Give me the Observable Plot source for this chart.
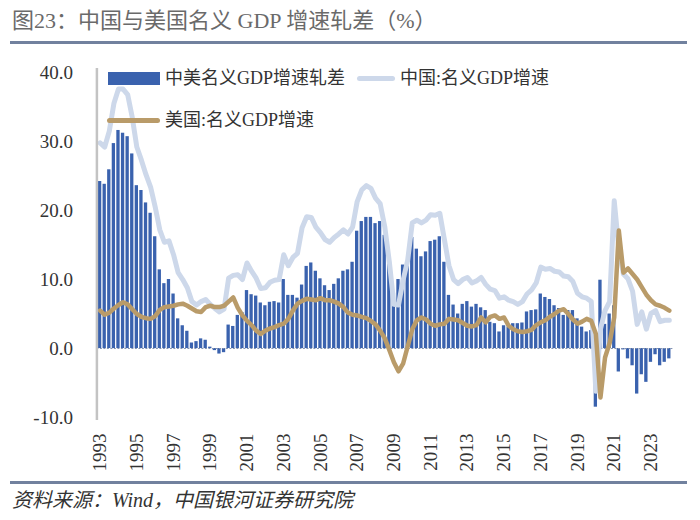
<!DOCTYPE html>
<html><head><meta charset="utf-8">
<script src="https://cdn.jsdelivr.net/npm/d3@7"></script>
<script src="https://cdn.jsdelivr.net/npm/@observablehq/plot@0.6"></script>
<style>
body{margin:0;background:#fff;}
#wrap{position:relative;width:700px;height:520px;overflow:hidden;font-family:"Liberation Serif","Noto Sans CJK SC",serif;color:#333;}
#title{position:absolute;left:12px;top:6px;font-size:22px;line-height:30px;color:#6a6a6a;white-space:nowrap;}
.rule{position:absolute;left:10px;width:677px;height:2.5px;background:#71819e;}
#chart{position:absolute;left:0;top:45px;}
#caption{position:absolute;left:12px;top:486px;font-size:20px;line-height:28px;font-style:italic;color:#333;white-space:nowrap;}
.lg{position:absolute;font-size:18px;line-height:22px;color:#333;white-space:nowrap;}
.sw{position:absolute;}
</style></head><body>
<div id="wrap">
  <div id="title">图23：中国与美国名义 GDP 增速轧差（%）</div>
  <div class="rule" style="top:41px"></div>
  <div id="chart"></div>
  <div class="rule" style="top:481px"></div>
  <div id="caption">资料来源：Wind，中国银河证券研究院</div>
  <div class="sw" style="left:108px;top:72px;width:52px;height:13px;background:#3a62ae"></div>
  <div class="lg" id="lg1" style="left:165px;top:67px"></div>
  <div class="sw" style="left:357px;top:76px;width:38px;height:5px;border-radius:3px;background:#cdd8ea"></div>
  <div class="lg" id="lg2" style="left:400px;top:67px"></div>
  <div class="sw" style="left:107px;top:118px;width:53px;height:5px;border-radius:3px;background:#b99b69"></div>
  <div class="lg" id="lg3" style="left:165px;top:109px"></div>
</div>
<script>
const seriesNames = ["中美名义GDP增速轧差", "中国:名义GDP增速", "美国:名义GDP增速"];
const years = [1993,1994,1995,1996,1997,1998,1999,2000,2001,2002,2003,2004,2005,2006,2007,2008,2009,2010,2011,2012,2013,2014,2015,2016,2017,2018,2019,2020,2021,2022,2023,2024];
const quarterNames = ["Q1","Q2","Q3","Q4"];
const tickYears = ["1993","1995","1997","1999","2001","2003","2005","2007","2009","2011","2013","2015","2017","2019","2021","2023"];
const yTicks = [-10, 0, 10, 20, 30, 40];

// 中美名义GDP增速轧差 (bars), quarterly 1993Q1 - 2024Q1
const gap = [
  24.2, 23.8, 25.9, 29.7,
  31.6, 31.2, 30.7, 28.2,
  23.6, 22.9, 21.1, 19.6,
  16.2, 11.4, 9.4, 10.0,
  7.9, 4.3, 3.3, 2.5,
  0.8, 1.0, 1.4, 1.2,
  0.2, -0.3, -0.8, -0.6,
  3.4, 3.2, 4.8, 5.2,
  8.4, 7.8, 7.6, 6.6,
  6.2, 6.7, 6.8, 6.6,
  10.0, 7.7, 7.7, 7.3,
  9.2, 11.9, 12.4, 11.2,
  10.1, 9.1, 8.4, 9.3,
  10.1, 11.2, 11.4, 12.5,
  17.0, 18.4, 19.0, 19.0,
  18.1, 18.4, 16.4, 12.5,
  8.0, 10.0, 12.1, 12.5,
  16.1, 14.4, 13.3, 14.0,
  15.5, 15.7, 16.2, 12.5,
  7.7, 6.3, 5.0, 6.4,
  6.8, 6.0, 6.4, 5.9,
  5.5, 3.8, 3.6, 2.4,
  3.3, 3.1, 3.6, 3.6,
  3.7, 5.3, 5.5, 5.6,
  7.9, 7.4, 7.1, 6.2,
  5.8, 4.8, 5.5, 5.5,
  4.3, 3.1, 2.4, 2.6,
  -8.5, 9.9, 3.5, 5.0,
  6.2, -3.4, -0.2, -1.5,
  -2.5, -6.6, -3.8, -4.9,
  -2.0, -0.9, -2.5, -2.0,
  -1.5
];
// 中国:名义GDP增速
const china = [
  29.8, 29.2, 31.5, 35.5,
  37.6, 37.6, 36.8, 33.5,
  29.2, 27.3, 25.2, 23.4,
  20.5, 17.2, 15.4, 15.6,
  13.6, 11.0, 10.0, 8.8,
  6.8, 6.3, 6.8, 7.1,
  6.4, 5.8, 5.3, 5.7,
  10.2, 10.6, 10.7, 10.0,
  12.4, 11.2, 10.2, 8.7,
  8.8, 9.6, 9.9, 10.0,
  13.6, 12.0, 13.2, 13.8,
  17.5, 19.1, 19.0, 17.6,
  16.8, 15.8, 15.4, 16.1,
  16.6, 17.2, 16.6, 17.6,
  21.3, 23.0, 23.6, 23.2,
  21.8, 21.0, 17.7, 12.6,
  6.4, 6.3, 9.9, 12.8,
  18.2, 18.6, 18.2, 18.6,
  19.4, 19.3, 19.6, 15.8,
  12.0, 10.0, 9.4, 10.0,
  10.3, 9.5, 9.8, 10.3,
  9.3, 8.6, 8.4, 7.3,
  7.5, 7.0, 6.8, 6.4,
  6.8, 7.9, 8.5, 9.5,
  11.8, 11.5, 11.6, 11.2,
  11.1, 10.5, 10.4, 9.7,
  8.0, 7.5, 7.3, 6.8,
  -6.2, 2.8, 5.5, 6.8,
  21.4, 14.5, 10.8, 10.1,
  8.3, 3.5, 5.3, 2.8,
  5.1, 5.5, 3.9, 4.1,
  4.1
];
// 美国:名义GDP增速
const us = [
  5.5, 4.9, 5.2, 5.8,
  6.3, 6.7, 6.4, 5.7,
  5.0, 4.6, 4.4, 4.3,
  4.7, 5.6, 6.0, 6.1,
  6.2, 6.4, 6.5, 6.2,
  5.8, 5.4, 5.3, 6.0,
  6.2, 6.0, 6.0, 6.2,
  6.8, 7.4, 5.9, 4.8,
  4.0, 3.4, 2.6, 2.1,
  2.6, 2.9, 3.1, 3.4,
  3.6, 4.3, 5.5, 6.5,
  6.9, 7.2, 7.1, 7.0,
  7.3, 7.0, 7.0, 6.8,
  6.5, 6.0, 5.2, 4.9,
  4.8, 4.6, 4.4, 4.0,
  3.5, 2.6, 1.5, -0.2,
  -2.0, -3.3, -2.2, 0.3,
  2.8, 4.1, 4.5, 4.2,
  3.6, 3.3, 3.5, 3.6,
  4.3, 4.2, 4.1, 3.7,
  3.3, 3.2, 3.4, 4.5,
  3.8, 4.6, 4.8, 4.3,
  4.5, 3.3, 2.8, 2.5,
  2.4, 2.5, 2.7, 3.4,
  3.8, 4.1, 4.6, 5.0,
  5.5, 5.7, 5.0, 4.2,
  3.6, 3.9, 4.3, 4.0,
  2.1, -7.1, -1.3, 0.8,
  4.5, 17.1, 11.0, 11.6,
  10.8, 10.0, 8.9, 7.8,
  7.0, 6.4, 6.2, 5.9,
  5.5
];

document.getElementById("lg1").textContent = seriesNames[0];
document.getElementById("lg2").textContent = seriesNames[1];
document.getElementById("lg3").textContent = seriesNames[2];

const quarters = years.flatMap(y => quarterNames.map(q => y + q)).slice(0, gap.length);
const rows = quarters.map((q, i) => ({i, q, gap: gap[i], china: china[i], us: us[i]}));
const tickIdx = tickYears.map(y => quarters.indexOf(y + "Q1"));

const xDomain = [-0.7, 125];
const yDomain = [-10.43, 40.58];
const half = 0.36;

const chart = Plot.plot({
  width: 700, height: 435,
  marginLeft: 96.4, marginRight: 26.6, marginTop: 23, marginBottom: 60,
  x: {domain: xDomain, label: null},
  y: {domain: yDomain, label: null},
  style: {fontFamily: "'Liberation Serif','Noto Sans CJK SC',serif", fontSize: "19px", color: "#333", background: "transparent", overflow: "visible"},
  marks: [
    Plot.rectY(rows, {x1: d => d.i - half, x2: d => d.i + half, y: "gap", fill: "#3a62ae"}),
    Plot.ruleY([0], {stroke: "#8393b0", strokeWidth: 1, strokeDasharray: "2,1.5"}),
    Plot.line(rows, {x: "i", y: "china", stroke: "#cdd8ea", strokeWidth: 5, strokeLinejoin: "round", strokeLinecap: "round"}),
    Plot.line(rows, {x: "i", y: "us", stroke: "#b99b69", strokeWidth: 4.5, strokeLinejoin: "round", strokeLinecap: "round"}),
    Plot.ruleX([xDomain[0]], {stroke: "#c3c3c3", strokeWidth: 2.5}),
    Plot.axisY({ticks: yTicks, tickSize: 0, tickPadding: 24, tickFormat: d => d.toFixed(1), fontSize: 19, label: null}),
    Plot.axisX({ticks: tickIdx, tickSize: 0, tickPadding: 13, tickRotate: -90, tickFormat: i => tickYears[tickIdx.indexOf(i)], fontSize: 19, label: null})
  ]
});
document.getElementById("chart").appendChild(chart);
</script>
</body></html>
